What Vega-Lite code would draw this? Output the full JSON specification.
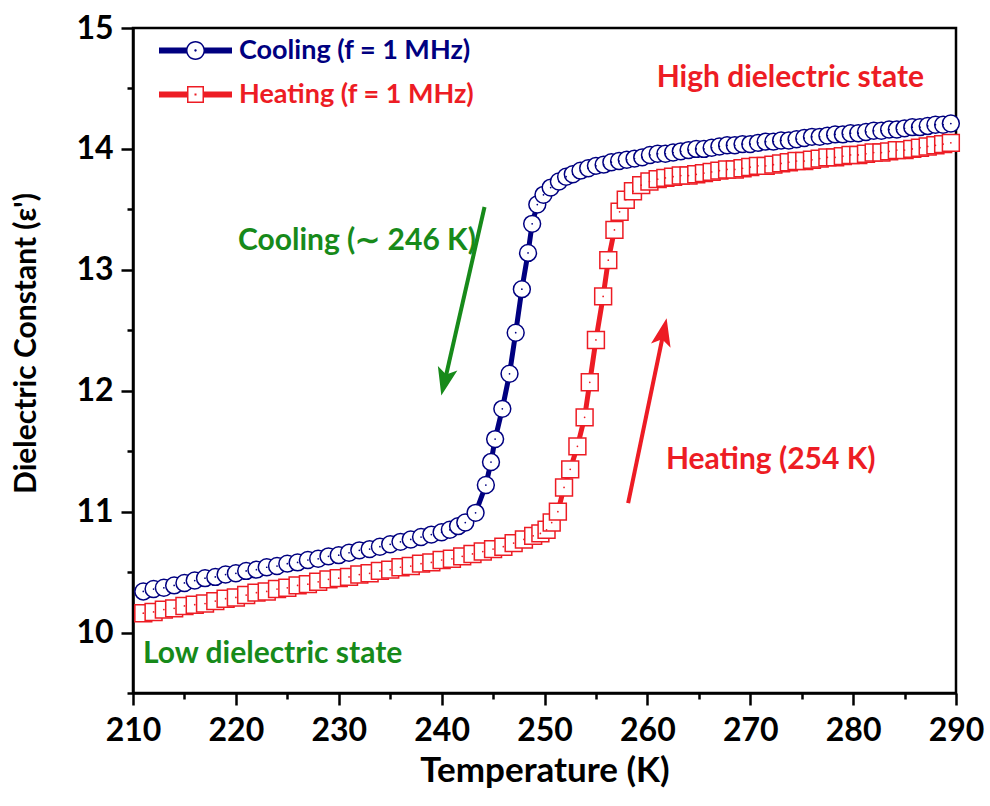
{
  "$schema": "https://vega.github.io/schema/vega-lite/v6.json",
  "width": 823,
  "height": 665,
  "autosize": {"type": "none"},
  "padding": {"left": 133, "top": 28, "right": 34, "bottom": 113},
  "background": "white",
  "config": {"view": {"stroke": "black", "strokeWidth": 2.5}, "font": "Lato"},
  "datasets": {
    "curves": [
      {"series":"Cooling","T":211,"eps":10.34},{"series":"Cooling","T":212,"eps":10.36},{"series":"Cooling","T":213,"eps":10.37},{"series":"Cooling","T":214,"eps":10.39},{"series":"Cooling","T":215,"eps":10.41},{"series":"Cooling","T":216,"eps":10.43},{"series":"Cooling","T":217,"eps":10.45},{"series":"Cooling","T":218,"eps":10.46},{"series":"Cooling","T":219,"eps":10.48},{"series":"Cooling","T":220,"eps":10.49},
      {"series":"Cooling","T":221,"eps":10.51},{"series":"Cooling","T":222,"eps":10.52},{"series":"Cooling","T":223,"eps":10.54},{"series":"Cooling","T":224,"eps":10.55},{"series":"Cooling","T":225,"eps":10.57},{"series":"Cooling","T":226,"eps":10.58},{"series":"Cooling","T":227,"eps":10.6},{"series":"Cooling","T":228,"eps":10.61},{"series":"Cooling","T":229,"eps":10.63},{"series":"Cooling","T":230,"eps":10.64},
      {"series":"Cooling","T":231,"eps":10.66},{"series":"Cooling","T":232,"eps":10.68},{"series":"Cooling","T":233,"eps":10.69},{"series":"Cooling","T":234,"eps":10.71},{"series":"Cooling","T":235,"eps":10.73},{"series":"Cooling","T":236,"eps":10.75},{"series":"Cooling","T":237,"eps":10.77},{"series":"Cooling","T":238,"eps":10.79},{"series":"Cooling","T":239,"eps":10.81},{"series":"Cooling","T":240,"eps":10.83},
      {"series":"Cooling","T":240.8,"eps":10.85},{"series":"Cooling","T":241.6,"eps":10.88},{"series":"Cooling","T":242.3,"eps":10.91},{"series":"Cooling","T":243.3,"eps":10.99},{"series":"Cooling","T":244.3,"eps":11.22},{"series":"Cooling","T":244.8,"eps":11.41},{"series":"Cooling","T":245.2,"eps":11.6},{"series":"Cooling","T":245.9,"eps":11.85},{"series":"Cooling","T":246.6,"eps":12.14},{"series":"Cooling","T":247.2,"eps":12.48},
      {"series":"Cooling","T":247.8,"eps":12.84},{"series":"Cooling","T":248.4,"eps":13.14},{"series":"Cooling","T":248.8,"eps":13.38},{"series":"Cooling","T":249.3,"eps":13.54},{"series":"Cooling","T":249.9,"eps":13.62},{"series":"Cooling","T":250.6,"eps":13.68},{"series":"Cooling","T":251.4,"eps":13.73},{"series":"Cooling","T":252.1,"eps":13.77},
      {"series":"Cooling","T":252.75,"eps":13.79},{"series":"Cooling","T":253.5,"eps":13.82},{"series":"Cooling","T":254.25,"eps":13.84},{"series":"Cooling","T":255,"eps":13.86},{"series":"Cooling","T":255.75,"eps":13.87},{"series":"Cooling","T":256.5,"eps":13.89},{"series":"Cooling","T":257.25,"eps":13.9},{"series":"Cooling","T":258,"eps":13.91},{"series":"Cooling","T":258.75,"eps":13.92},{"series":"Cooling","T":259.5,"eps":13.93},
      {"series":"Cooling","T":260.25,"eps":13.95},{"series":"Cooling","T":261,"eps":13.96},{"series":"Cooling","T":261.75,"eps":13.96},{"series":"Cooling","T":262.5,"eps":13.97},{"series":"Cooling","T":263.25,"eps":13.98},{"series":"Cooling","T":264,"eps":13.99},{"series":"Cooling","T":264.75,"eps":14.0},{"series":"Cooling","T":265.5,"eps":14.0},{"series":"Cooling","T":266.25,"eps":14.01},{"series":"Cooling","T":267,"eps":14.02},
      {"series":"Cooling","T":267.75,"eps":14.03},{"series":"Cooling","T":268.5,"eps":14.03},{"series":"Cooling","T":269.25,"eps":14.04},{"series":"Cooling","T":270,"eps":14.04},{"series":"Cooling","T":270.75,"eps":14.05},{"series":"Cooling","T":271.5,"eps":14.06},{"series":"Cooling","T":272.25,"eps":14.06},{"series":"Cooling","T":273,"eps":14.07},{"series":"Cooling","T":273.75,"eps":14.07},{"series":"Cooling","T":274.5,"eps":14.08},
      {"series":"Cooling","T":275.25,"eps":14.09},{"series":"Cooling","T":276,"eps":14.1},{"series":"Cooling","T":276.75,"eps":14.1},{"series":"Cooling","T":277.5,"eps":14.11},{"series":"Cooling","T":278.25,"eps":14.12},{"series":"Cooling","T":279,"eps":14.12},{"series":"Cooling","T":279.75,"eps":14.13},{"series":"Cooling","T":280.5,"eps":14.13},{"series":"Cooling","T":281.25,"eps":14.14},{"series":"Cooling","T":282,"eps":14.15},
      {"series":"Cooling","T":282.75,"eps":14.15},{"series":"Cooling","T":283.5,"eps":14.16},{"series":"Cooling","T":284.25,"eps":14.16},{"series":"Cooling","T":285,"eps":14.17},{"series":"Cooling","T":285.75,"eps":14.18},{"series":"Cooling","T":286.5,"eps":14.18},{"series":"Cooling","T":287.25,"eps":14.19},{"series":"Cooling","T":288,"eps":14.2},{"series":"Cooling","T":288.75,"eps":14.2},{"series":"Cooling","T":289.5,"eps":14.21},
      {"series":"Heating","T":211,"eps":10.16},{"series":"Heating","T":212,"eps":10.17},{"series":"Heating","T":213,"eps":10.19},{"series":"Heating","T":214,"eps":10.2},{"series":"Heating","T":215,"eps":10.22},{"series":"Heating","T":216,"eps":10.23},{"series":"Heating","T":217,"eps":10.24},{"series":"Heating","T":218,"eps":10.26},{"series":"Heating","T":219,"eps":10.28},{"series":"Heating","T":220,"eps":10.29},
      {"series":"Heating","T":221,"eps":10.31},{"series":"Heating","T":222,"eps":10.33},{"series":"Heating","T":223,"eps":10.34},{"series":"Heating","T":224,"eps":10.36},{"series":"Heating","T":225,"eps":10.37},{"series":"Heating","T":226,"eps":10.39},{"series":"Heating","T":227,"eps":10.4},{"series":"Heating","T":228,"eps":10.42},{"series":"Heating","T":229,"eps":10.44},{"series":"Heating","T":230,"eps":10.45},
      {"series":"Heating","T":231,"eps":10.46},{"series":"Heating","T":232,"eps":10.48},{"series":"Heating","T":233,"eps":10.49},{"series":"Heating","T":234,"eps":10.51},{"series":"Heating","T":235,"eps":10.52},{"series":"Heating","T":236,"eps":10.54},{"series":"Heating","T":237,"eps":10.55},{"series":"Heating","T":238,"eps":10.57},{"series":"Heating","T":239,"eps":10.58},{"series":"Heating","T":240,"eps":10.6},
      {"series":"Heating","T":241,"eps":10.61},{"series":"Heating","T":242,"eps":10.63},{"series":"Heating","T":243,"eps":10.65},{"series":"Heating","T":244,"eps":10.67},{"series":"Heating","T":245,"eps":10.69},{"series":"Heating","T":246,"eps":10.71},{"series":"Heating","T":247,"eps":10.74},{"series":"Heating","T":248,"eps":10.77},{"series":"Heating","T":248.9,"eps":10.8},{"series":"Heating","T":249.6,"eps":10.82},
      {"series":"Heating","T":250.2,"eps":10.85},{"series":"Heating","T":250.7,"eps":10.91},{"series":"Heating","T":251.3,"eps":11.0},{"series":"Heating","T":251.9,"eps":11.2},{"series":"Heating","T":252.5,"eps":11.35},{"series":"Heating","T":253.2,"eps":11.54},{"series":"Heating","T":253.9,"eps":11.78},{"series":"Heating","T":254.4,"eps":12.07},{"series":"Heating","T":255,"eps":12.42},{"series":"Heating","T":255.7,"eps":12.78},
      {"series":"Heating","T":256.2,"eps":13.08},{"series":"Heating","T":256.8,"eps":13.33},{"series":"Heating","T":257.3,"eps":13.48},{"series":"Heating","T":257.9,"eps":13.58},{"series":"Heating","T":258.6,"eps":13.65},{"series":"Heating","T":259.4,"eps":13.7},{"series":"Heating","T":260.2,"eps":13.73},
      {"series":"Heating","T":261,"eps":13.75},{"series":"Heating","T":261.75,"eps":13.76},{"series":"Heating","T":262.5,"eps":13.77},{"series":"Heating","T":263.25,"eps":13.78},{"series":"Heating","T":264,"eps":13.78},{"series":"Heating","T":264.75,"eps":13.79},{"series":"Heating","T":265.5,"eps":13.8},{"series":"Heating","T":266.25,"eps":13.81},{"series":"Heating","T":267,"eps":13.82},{"series":"Heating","T":267.75,"eps":13.83},
      {"series":"Heating","T":268.5,"eps":13.83},{"series":"Heating","T":269.25,"eps":13.84},{"series":"Heating","T":270,"eps":13.85},{"series":"Heating","T":270.75,"eps":13.86},{"series":"Heating","T":271.5,"eps":13.86},{"series":"Heating","T":272.25,"eps":13.87},{"series":"Heating","T":273,"eps":13.88},{"series":"Heating","T":273.75,"eps":13.89},{"series":"Heating","T":274.5,"eps":13.9},{"series":"Heating","T":275.25,"eps":13.9},
      {"series":"Heating","T":276,"eps":13.91},{"series":"Heating","T":276.75,"eps":13.92},{"series":"Heating","T":277.5,"eps":13.93},{"series":"Heating","T":278.25,"eps":13.93},{"series":"Heating","T":279,"eps":13.94},{"series":"Heating","T":279.75,"eps":13.95},{"series":"Heating","T":280.5,"eps":13.95},{"series":"Heating","T":281.25,"eps":13.96},{"series":"Heating","T":282,"eps":13.97},{"series":"Heating","T":282.75,"eps":13.97},
      {"series":"Heating","T":283.5,"eps":13.98},{"series":"Heating","T":284.25,"eps":13.99},{"series":"Heating","T":285,"eps":13.99},{"series":"Heating","T":285.75,"eps":14.0},{"series":"Heating","T":286.5,"eps":14.01},{"series":"Heating","T":287.25,"eps":14.02},{"series":"Heating","T":288,"eps":14.03},{"series":"Heating","T":288.75,"eps":14.04},{"series":"Heating","T":289.5,"eps":14.05}
    ],
    "notes": [
      {"group":"cool","label":"Cooling (∼ 246 K)","T":220.2,"eps":13.24},
      {"group":"cool","label":"Low dielectric state","T":210.97,"eps":9.82},
      {"group":"heat","label":"Heating (254 K)","T":261.8,"eps":11.43},
      {"group":"heat","label":"High dielectric state","T":260.9,"eps":14.59}
    ],
    "arrows": [
      {"group":"cool","T":244.17,"eps":13.52,"Tneck":240.44,"epsneck":12.13,"Ttip":239.97,"epstip":11.96},
      {"group":"heat","T":258.13,"eps":11.07,"Tneck":261.47,"epsneck":12.44,"Ttip":261.87,"epstip":12.6}
    ]
  },
  "layer": [
    {
      "data": {"name": "curves"},
      "mark": {"type": "line", "strokeWidth": 5},
      "encoding": {
        "x": {
          "field": "T", "type": "quantitative",
          "scale": {"domain": [210, 290], "nice": false, "zero": false},
          "axis": {
            "title": "Temperature (K)",
            "values": [210,215,220,225,230,235,240,245,250,255,260,265,270,275,280,285,290],
            "labelExpr": "datum.value % 10 === 0 ? datum.label : ''",
            "tickSize": {"condition": {"test": "datum.value % 10 === 0", "value": 12}, "value": 6},
            "tickWidth": 2.5, "tickColor": "black",
            "domainColor": "black", "domainWidth": 2.5,
            "labelFont": "Lato", "labelFontWeight": "bold", "labelFontSize": 32, "labelColor": "black",
            "labelPadding": 10, "labelFlush": false, "labelOverlap": false,
            "titleFont": "Lato", "titleFontSize": 35, "titleFontWeight": "bold", "titleColor": "black",
            "titlePadding": 7, "grid": false
          }
        },
        "y": {
          "field": "eps", "type": "quantitative",
          "scale": {"domain": [9.5, 15], "nice": false, "zero": false},
          "axis": {
            "title": "Dielectric Constant (ε')",
            "values": [9.5,10,10.5,11,11.5,12,12.5,13,13.5,14,14.5,15],
            "labelExpr": "datum.value % 1 === 0 ? format(datum.value, 'd') : ''",
            "tickSize": {"condition": {"test": "datum.value % 1 === 0", "value": 12}, "value": 6},
            "tickWidth": 2.5, "tickColor": "black",
            "domainColor": "black", "domainWidth": 2.5,
            "labelFont": "Lato", "labelFontWeight": "bold", "labelFontSize": 32, "labelColor": "black",
            "labelPadding": 8, "labelFlush": false, "labelOverlap": false,
            "titleFont": "Lato", "titleFontSize": 30, "titleFontWeight": "bold", "titleColor": "black",
            "titlePadding": 34, "titleY": 315, "grid": false
          }
        },
        "color": {
          "field": "series", "type": "nominal",
          "scale": {"domain": ["Cooling", "Heating"], "range": ["#000080", "#ed1c24"]},
          "legend": {
            "orient": "none", "legendX": 49, "legendY": 9, "title": null,
            "labelExpr": "datum.label + ' (f = 1 MHz)'",
            "labelLimit": 500,
            "symbolSize": 400, "symbolStrokeWidth": 0,
            "labelFont": "Lato", "labelFontSize": 27, "labelFontWeight": "bold",
            "labelOffset": 30, "rowPadding": 16, "padding": 0,
            "encode": {
              "symbols": {"update": {
                "shape": {"signal": "datum.value === 'Cooling' ? 'M-3.65,-0.3H-0.8V0.3H-3.65Z M0.8,-0.3H3.65V0.3H0.8Z M0.95,0A0.95,0.95,0,1,1,-0.95,0A0.95,0.95,0,1,1,0.95,0Z M0.8,0A0.8,0.8,0,1,0,-0.8,0A0.8,0.8,0,1,0,0.8,0Z M0.12,0A0.12,0.12,0,1,1,-0.12,0A0.12,0.12,0,1,1,0.12,0Z' : 'M-3.65,-0.3H-0.7V0.3H-3.65Z M0.7,-0.3H3.65V0.3H0.7Z M-0.85,-0.85H0.85V0.85H-0.85Z M-0.7,-0.7V0.7H0.7V-0.7Z M-0.1,-0.1H0.1V0.1H-0.1Z'"},
                "fill": {"signal": "datum.value === 'Cooling' ? '#000080' : '#ed1c24'"},
                "fillOpacity": {"value": 1},
                "stroke": {"value": "transparent"},
                "strokeWidth": {"value": 0},
                "opacity": {"value": 1}
              }},
              "labels": {"update": {
                "fill": {"signal": "datum.value === 'Cooling' ? '#000080' : '#ed1c24'"}
              }}
            }
          }
        }
      }
    },
    {
      "data": {"name": "curves"},
      "transform": [{"filter": "datum.series === 'Cooling'"}],
      "mark": {"type": "point", "shape": "circle", "filled": true, "fill": "white", "stroke": "#000080", "size": 285, "strokeWidth": 1.5, "opacity": 1},
      "encoding": {
        "x": {"field": "T", "type": "quantitative"},
        "y": {"field": "eps", "type": "quantitative"}
      }
    },
    {
      "data": {"name": "curves"},
      "transform": [{"filter": "datum.series === 'Heating'"}],
      "mark": {"type": "point", "shape": "square", "filled": true, "fill": "white", "stroke": "#ed1c24", "size": 285, "strokeWidth": 1.5, "opacity": 1},
      "encoding": {
        "x": {"field": "T", "type": "quantitative"},
        "y": {"field": "eps", "type": "quantitative"}
      }
    },
    {
      "data": {"name": "curves"},
      "mark": {"type": "point", "filled": true, "size": 3, "opacity": 1},
      "encoding": {
        "x": {"field": "T", "type": "quantitative"},
        "y": {"field": "eps", "type": "quantitative"},
        "fill": {"field": "series", "type": "nominal", "scale": {"domain": ["Cooling", "Heating"], "range": ["#000080", "#ed1c24"]}, "legend": null}
      }
    },
    {
      "data": {"name": "arrows"},
      "transform": [{"filter": "datum.group === 'cool'"}],
      "layer": [
        {
          "mark": {"type": "rule", "strokeWidth": 4, "color": "#178a1a"},
          "encoding": {
            "x": {"field": "T", "type": "quantitative"},
            "y": {"field": "eps", "type": "quantitative"},
            "x2": {"field": "Tneck"},
            "y2": {"field": "epsneck"}
          }
        },
        {
          "mark": {"type": "point", "filled": true, "color": "#178a1a", "opacity": 1, "size": 100, "angle": 193, "shape": "M0,0L2,5.6L0,4.3L-2,5.6Z"},
          "encoding": {
            "x": {"field": "Ttip", "type": "quantitative"},
            "y": {"field": "epstip", "type": "quantitative"}
          }
        }
      ]
    },
    {
      "data": {"name": "arrows"},
      "transform": [{"filter": "datum.group === 'heat'"}],
      "layer": [
        {
          "mark": {"type": "rule", "strokeWidth": 4, "color": "#ed1c24"},
          "encoding": {
            "x": {"field": "T", "type": "quantitative"},
            "y": {"field": "eps", "type": "quantitative"},
            "x2": {"field": "Tneck"},
            "y2": {"field": "epsneck"}
          }
        },
        {
          "mark": {"type": "point", "filled": true, "color": "#ed1c24", "opacity": 1, "size": 100, "angle": 12, "shape": "M0,0L2,5.6L0,4.3L-2,5.6Z"},
          "encoding": {
            "x": {"field": "Ttip", "type": "quantitative"},
            "y": {"field": "epstip", "type": "quantitative"}
          }
        }
      ]
    },
    {
      "data": {"name": "notes"},
      "transform": [{"filter": "datum.group === 'cool'"}],
      "mark": {"type": "text", "align": "left", "baseline": "middle", "font": "Lato", "fontWeight": "bold", "fontSize": 30, "color": "#178a1a"},
      "encoding": {
        "x": {"field": "T", "type": "quantitative"},
        "y": {"field": "eps", "type": "quantitative"},
        "text": {"field": "label"}
      }
    },
    {
      "data": {"name": "notes"},
      "transform": [{"filter": "datum.group === 'heat'"}],
      "mark": {"type": "text", "align": "left", "baseline": "middle", "font": "Lato", "fontWeight": "bold", "fontSize": 30, "color": "#ed1c24"},
      "encoding": {
        "x": {"field": "T", "type": "quantitative"},
        "y": {"field": "eps", "type": "quantitative"},
        "text": {"field": "label"}
      }
    }
  ]
}
